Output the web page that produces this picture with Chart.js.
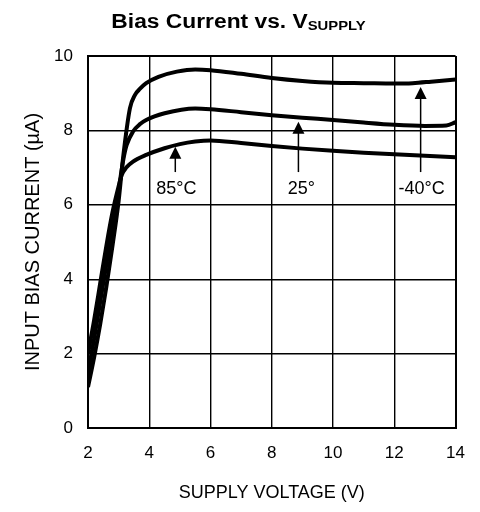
<!DOCTYPE html>
<html><head><meta charset="utf-8">
<script src="https://cdn.jsdelivr.net/npm/chart.js@4"></script>
<style>html,body{margin:0;padding:0;background:#fff}#wrap{width:480px;height:512px;position:relative}</style>
</head><body><div id="wrap"><canvas id="c"></canvas></div>
<script>
// ---- data ----
const xTicks = [2, 4, 6, 8, 10, 12, 14];
const yTicks = [0, 2, 4, 6, 8, 10];

const vM40 = [2.0, 2.2, 2.4, 2.6, 2.8, 3.0, 3.15, 3.37, 3.53, 3.7, 3.9, 4.3, 4.9, 5.5, 6.0, 7.0, 8.0, 9.0, 10.0, 11.0, 12.0, 12.6, 13.2, 14.0];
const iM40 = [1.1, 1.9, 2.8, 3.8, 4.9, 6.1, 7.3, 8.6, 8.95, 9.12, 9.27, 9.44, 9.58, 9.64, 9.62, 9.52, 9.41, 9.33, 9.28, 9.27, 9.26, 9.27, 9.31, 9.37];

const v25 = [2.0, 2.2, 2.4, 2.6, 2.8, 3.0, 3.15, 3.26, 3.47, 3.7, 3.9, 4.5, 5.5, 6.0, 7.0, 8.0, 9.0, 10.0, 11.0, 12.0, 13.0, 13.7, 14.0];
const i25 = [1.5, 2.4, 3.4, 4.4, 5.4, 6.4, 7.2, 7.6, 7.97, 8.17, 8.28, 8.46, 8.59, 8.57, 8.49, 8.41, 8.34, 8.28, 8.21, 8.15, 8.12, 8.13, 8.22];

const v85 = [2.0, 2.2, 2.4, 2.6, 2.8, 3.0, 3.1, 3.25, 3.47, 3.9, 4.5, 5.0, 5.5, 6.0, 7.0, 8.0, 9.0, 10.0, 11.0, 12.0, 13.0, 14.0];
const i85 = [2.0, 2.9, 3.9, 4.9, 5.8, 6.5, 6.8, 7.0, 7.16, 7.34, 7.52, 7.63, 7.7, 7.73, 7.66, 7.58, 7.51, 7.45, 7.4, 7.36, 7.32, 7.28];

const annLabels = ['85°C', '25°', '-40°C'];
const annX = [4.85, 8.87, 12.86];
const annTipY = [7.56, 8.23, 9.17];
const annTailY = [6.88, 6.88, 6.88];
const annTextY = [6.42, 6.42, 6.42];

const titleMain = 'Bias Current vs. V';
const titleSub = 'SUPPLY';
const xTitle = 'SUPPLY VOLTAGE (V)';
const yTitle = 'INPUT BIAS CURRENT (\u00B5A)';

// ---- chart ----
const FONT = "'Liberation Sans', Arial, Helvetica, sans-serif";
const toPts = (xs, ys) => xs.map((x, i) => ({x: x, y: ys[i]}));
const lineStyle = {borderColor: '#000', borderWidth: 4, pointRadius: 0, fill: false, cubicInterpolationMode: 'monotone'};

const annotationPlugin = {
  id: 'arrows',
  afterDatasetsDraw(chart) {
    const ctx = chart.ctx, xs = chart.scales.x, ys = chart.scales.y;
    ctx.save();
    ctx.strokeStyle = '#000'; ctx.fillStyle = '#000'; ctx.lineWidth = 1.5;
    annLabels.forEach((lab, i) => {
      const px = xs.getPixelForValue(annX[i]);
      const tip = ys.getPixelForValue(annTipY[i]);
      const tail = ys.getPixelForValue(annTailY[i]);
      const head = 12, hw = 6;
      ctx.beginPath(); ctx.moveTo(px, tail); ctx.lineTo(px, tip + head - 1); ctx.stroke();
      ctx.beginPath(); ctx.moveTo(px, tip); ctx.lineTo(px - hw, tip + head); ctx.lineTo(px + hw, tip + head); ctx.closePath(); ctx.fill();
      ctx.font = '18px ' + FONT; ctx.textAlign = 'center'; ctx.textBaseline = 'middle';
      ctx.fillText(lab, px + (i === 1 ? 3 : 1), ys.getPixelForValue(annTextY[i]));
    });
    ctx.restore();
  }
};

const titlePlugin = {
  id: 'subtitleTitle',
  afterDraw(chart) {
    const ctx = chart.ctx;
    const sx = 1.14;
    ctx.save();
    ctx.fillStyle = '#000'; ctx.textBaseline = 'alphabetic'; ctx.textAlign = 'left';
    const fMain = 'bold 20px ' + FONT, fSub = 'bold 13px ' + FONT;
    ctx.font = fMain; const wM = ctx.measureText(titleMain).width;
    ctx.font = fSub; const wS = ctx.measureText(titleSub).width;
    const x0 = 238.5 - sx * (wM + wS) / 2;
    ctx.translate(x0, 0);
    ctx.scale(sx, 1);
    ctx.font = fMain; ctx.fillText(titleMain, 0, 28);
    ctx.font = fSub; ctx.fillText(titleSub, wM, 30);
    ctx.restore();
  }
};

const gridW = (ctx, lo, hi) => (ctx.tick && (ctx.tick.value === lo || ctx.tick.value === hi)) ? 2 : 1.4;

new Chart(document.getElementById('c'), {
  type: 'line',
  data: {
    datasets: [
      Object.assign({label: '-40°C', data: toPts(vM40, iM40)}, lineStyle),
      Object.assign({label: '25°C', data: toPts(v25, i25)}, lineStyle),
      Object.assign({label: '85°C', data: toPts(v85, i85)}, lineStyle)
    ]
  },
  options: {
    responsive: true, maintainAspectRatio: false, animation: false,
    layout: {padding: {top: 56, right: 21, left: 0, bottom: 0}},
    plugins: {legend: {display: false}, tooltip: {enabled: false}, title: {display: false}},
    scales: {
      x: {
        type: 'linear', min: 2, max: 14,
        afterBuildTicks: s => { s.ticks = xTicks.map(v => ({value: v})); },
        afterFit: s => { s.height = 84; },
        ticks: {color: '#000', font: {family: FONT, size: 17}, padding: 15, maxRotation: 0},
        grid: {color: '#000', lineWidth: c => gridW(c, 2, 14), drawTicks: false},
        border: {color: '#000', width: 2},
        title: {display: true, text: xTitle, color: '#000', font: {family: FONT, size: 18}, padding: {top: 0, bottom: 8}}
      },
      y: {
        min: 0, max: 10,
        afterBuildTicks: s => { s.ticks = yTicks.map(v => ({value: v})); },
        afterFit: s => { s.width = 88; },
        ticks: {color: '#000', font: {family: FONT, size: 17}, padding: 15},
        grid: {color: '#000', lineWidth: c => gridW(c, 0, 10), drawTicks: false},
        border: {color: '#000', width: 2},
        title: {display: true, text: yTitle, color: '#000', font: {family: FONT, size: 20}, padding: {top: 21, bottom: 0}}
      }
    }
  },
  plugins: [annotationPlugin, titlePlugin]
});
</script>
</body></html>
